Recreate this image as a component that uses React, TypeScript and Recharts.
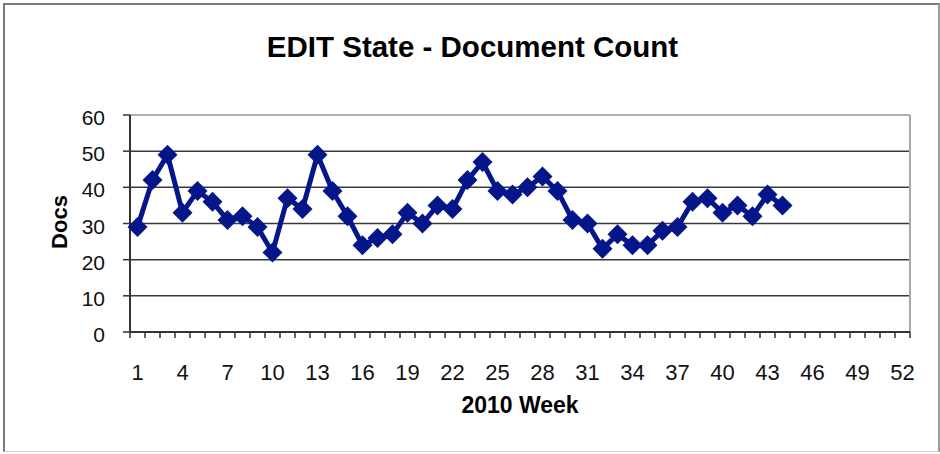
import { LineChart, Line, XAxis, YAxis, CartesianGrid, ReferenceLine } from 'recharts'

const WEEKS = [
  1, 2, 3, 4, 5, 6, 7, 8, 9, 10, 11, 12, 13, 14, 15, 16, 17, 18, 19, 20, 21, 22,
  23, 24, 25, 26, 27, 28, 29, 30, 31, 32, 33, 34, 35, 36, 37, 38, 39, 40, 41, 42, 43, 44,
]
const DOCS = [
  29, 42, 49, 33, 39, 36, 31, 32, 29, 22, 37, 34, 49, 39, 32, 24, 26, 27, 33, 30, 35, 34,
  42, 47, 39, 38, 40, 43, 39, 31, 30, 23, 27, 24, 24, 28, 29, 36, 37, 33, 35, 32, 38, 35,
]
const WEEK_LABELS = [1, 4, 7, 10, 13, 16, 19, 22, 25, 28, 31, 34, 37, 40, 43, 46, 49, 52]
const Y_TICKS = [0, 10, 20, 30, 40, 50, 60]
const LAST_WEEK = 52

const FONT = '"Liberation Sans", Arial, Helvetica, sans-serif'
const LINE_COLOR = '#04168a'

const chartData = WEEKS.map((w, i) => ({ week: w, docs: DOCS[i] }))

// tick marks sit between weeks, labels sit on the week itself
const boundaries: number[] = []
for (let i = 0; i <= LAST_WEEK; i++) boundaries.push(i + 0.5)
const xTicks = [...boundaries, ...WEEK_LABELS]

function WeekTick(props: any) {
  const { x, y, payload } = props
  const v = payload.value
  if (v % 1 !== 0) {
    return <line x1={x} y1={y} x2={x} y2={y + 6} stroke="#333" strokeWidth={1.5} />
  }
  return (
    <text x={x} y={y + 48} textAnchor="middle" fontSize={22} fontFamily={FONT} fill="#111">
      {v}
    </text>
  )
}

function DocsTick(props: any) {
  const { x, y, payload } = props
  return (
    <text x={x} y={y + 10} textAnchor="end" fontSize={21} fontFamily={FONT} fill="#111">
      {payload.value}
    </text>
  )
}

function Diamond(props: any) {
  const { cx, cy, index } = props
  const r = 10
  return (
    <path
      key={index}
      d={`M${cx},${cy - r} L${cx + r},${cy} L${cx},${cy + r} L${cx - r},${cy} Z`}
      fill={LINE_COLOR}
    />
  )
}

export default function App() {
  return (
    <div style={{ position: 'absolute', left: 0, top: 0, width: 940, height: 454, background: '#fff', fontFamily: FONT }}>
      <div
        style={{
          position: 'absolute', left: 3, top: 3, width: 933, height: 446,
          borderTop: '2px solid #7a7a7a', borderLeft: '2px solid #7a7a7a',
          borderRight: '2px solid #9a9a9a', borderBottom: '1px solid #d0d0d0',
        }}
      />
      <div style={{ position: 'absolute', left: 0, width: 945, top: 30, textAlign: 'center', fontSize: 29.5, fontWeight: 'bold', color: '#000' }}>
        EDIT State - Document Count
      </div>
      <div
        style={{
          position: 'absolute', left: 60, top: 222, fontSize: 22, fontWeight: 'bold', color: '#000',
          transform: 'translate(-50%, -50%) rotate(-90deg)', whiteSpace: 'nowrap',
        }}
      >
        Docs
      </div>
      <div style={{ position: 'absolute', left: 130, width: 780, top: 392, textAlign: 'center', fontSize: 23, fontWeight: 'bold', color: '#000' }}>
        2010 Week
      </div>
      <div style={{ position: 'absolute', left: 0, top: 0 }}>
        <LineChart width={940} height={454} data={chartData} margin={{ top: 115, right: 30, left: 70, bottom: 82 }}>
          <CartesianGrid vertical={false} horizontalValues={[10, 20, 30, 40, 50]} stroke="#3a3a3a" strokeWidth={1.5} />
          <ReferenceLine y={60} stroke="#b0b0b0" strokeWidth={2} />
          <ReferenceLine x={LAST_WEEK + 0.5} stroke="#a8a8a8" strokeWidth={2} />
          <XAxis
            dataKey="week"
            type="number"
            domain={[0.5, LAST_WEEK + 0.5]}
            ticks={xTicks}
            interval={0}
            height={40}
            tickSize={0}
            tickMargin={0}
            tickLine={false}
            tick={<WeekTick />}
            axisLine={{ stroke: '#333', strokeWidth: 2 }}
          />
          <YAxis
            domain={[0, 60]}
            ticks={Y_TICKS}
            width={60}
            tickSize={7}
            tickMargin={18}
            tick={<DocsTick />}
            tickLine={{ stroke: '#333', strokeWidth: 1.5 }}
            axisLine={{ stroke: '#333', strokeWidth: 2 }}
          />
          <Line
            dataKey="docs"
            type="linear"
            stroke={LINE_COLOR}
            strokeWidth={5}
            dot={<Diamond />}
            activeDot={false}
            isAnimationActive={false}
          />
        </LineChart>
      </div>
    </div>
  )
}
